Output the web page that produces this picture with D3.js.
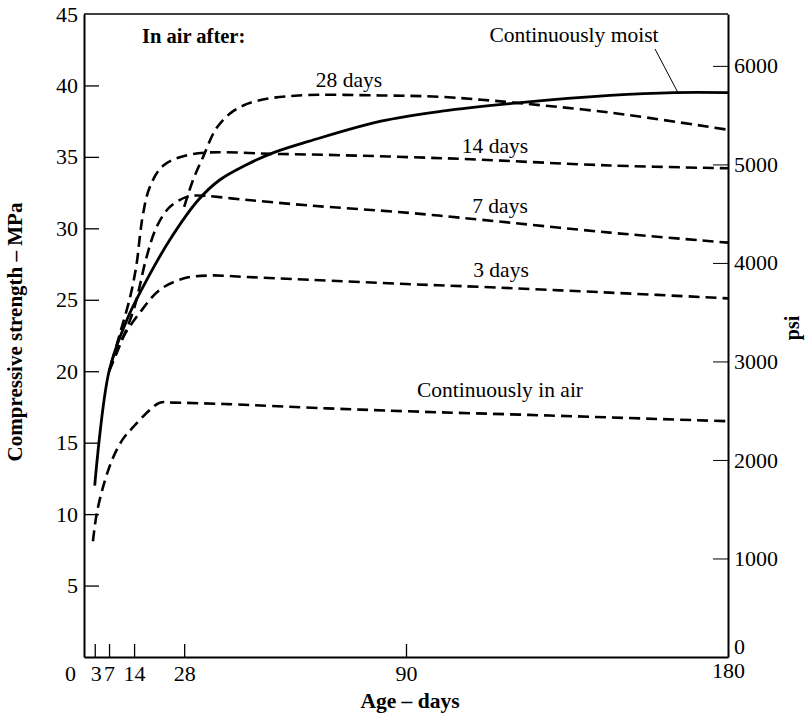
<!DOCTYPE html>
<html><head><meta charset="utf-8">
<script src="https://cdn.jsdelivr.net/npm/d3@7"></script>
<style>
html,body{margin:0;padding:0;background:#fff;}
svg{display:block;}
text{font-family:"Liberation Serif","Times New Roman",serif;fill:#000;}
</style></head>
<body>
<script>
// ---- data (age in days, compressive strength in MPa) ----
const moist   = [[3,12],[7,20],[12,23.6],[16.5,25.9],[24,29.2],[32,32.0],[38,33.4],[45,34.4],[53,35.3],[63,36.1],[83,37.5],[100,38.2],[122,38.8],[147,39.3],[165,39.5],[180,39.5]];
const air28   = [[28,31.5],[30.5,33.4],[33.3,35.0],[37,37.0],[41.7,38.2],[48,38.9],[60,39.3],[83,39.3],[100,39.2],[111,39.0],[120,38.8],[147,38.1],[180,36.9]];
const air14   = [[7.7,20.6],[10,22.6],[12.9,25.2],[14.7,27.5],[15.7,29.6],[16.5,31.0],[18.4,32.9],[22.2,34.4],[30.5,35.2],[55,35.2],[101,34.9],[147,34.4],[180,34.2]];
const air7    = [[7,20],[10,21.8],[14,24.4],[17.5,28],[20.3,30.1],[24,31.5],[28.7,32.2],[31.5,32.3],[45,32.0],[63,31.6],[90,31.1],[111,30.6],[147,29.7],[180,29.0]];
const air3    = [[7,20],[10.5,22.2],[15.6,24.1],[21.2,25.7],[28,26.5],[35,26.7],[45,26.6],[63,26.4],[90,26.1],[111,25.9],[147,25.5],[180,25.1]];
const airOnly = [[2.5,8.1],[3.6,10.1],[5.8,12.3],[8.2,14.0],[11,15.3],[13.8,16.1],[18.4,17.3],[21.2,17.8],[25,17.8],[40,17.7],[68,17.4],[90,17.2],[130,16.9],[180,16.5]];

const xTicks   = [0,3,7,14,28,90,180];
const yTicks   = [5,10,15,20,25,30,35,40,45];
const psiTicks = [0,1000,2000,3000,4000,5000,6000];

const curveLabels = ["28 days","14 days","7 days","3 days","Continuously in air"];

// ---- layout ----
const W = 808, H = 716;
const svg = d3.select("body").append("svg").attr("width", W).attr("height", H);

const x = d3.scaleLinear().domain([0,180]).range([84,728]);
const y = d3.scaleLinear().domain([0,45]).range([657,14]);
const yPsi = d3.scaleLinear().domain([0,45*145.038]).range([657,14]);

const line = d3.line().x(d=>x(d[0])).y(d=>y(d[1])).curve(d3.curveCatmullRom.alpha(0.5));

// frame top line
svg.append("line").attr("x1",x(0)).attr("x2",x(180)).attr("y1",y(45)).attr("y2",y(45))
  .attr("stroke","#000").attr("stroke-width",1.5);

const tickFont = "22px";

// left axis
const gL = svg.append("g").attr("transform",`translate(${x(0)},0)`)
  .call(d3.axisLeft(y).tickValues(yTicks).tickSizeInner(-15).tickSizeOuter(0).tickPadding(6));
gL.select(".domain").attr("stroke-width",2);
gL.selectAll(".tick line").attr("stroke-width",1.3);
gL.selectAll(".tick").filter(d=>d===45).select("line").remove();

// right axis (psi)
const gR = svg.append("g").attr("transform",`translate(${x(180)},0)`)
  .call(d3.axisRight(yPsi).tickValues(psiTicks).tickSizeInner(-15).tickSizeOuter(0).tickPadding(6).tickFormat(d3.format("d")));
gR.select(".domain").attr("stroke-width",2);
gR.selectAll(".tick line").attr("stroke-width",1);
gR.selectAll(".tick").filter(d=>d===0).select("line").remove();
gR.selectAll(".tick").filter(d=>d===0).select("text").attr("dy",null).attr("y",-4);

// bottom axis
const gB = svg.append("g").attr("transform",`translate(0,${y(0)})`)
  .call(d3.axisBottom(x).tickValues(xTicks).tickSizeInner(-13).tickSizeOuter(0).tickPadding(8));
gB.select(".domain").attr("stroke-width",2);
gB.selectAll(".tick line").attr("stroke-width",1.3);
gB.selectAll(".tick").filter(d=>d===0||d===180).select("line").remove();
gB.selectAll(".tick").filter(d=>d===0).select("text").attr("x",-14);
gB.selectAll(".tick").filter(d=>d===180).select("text").attr("dy",null).attr("y",21);
gB.selectAll(".tick").filter(d=>d===3).select("text").attr("x",1);

svg.selectAll(".tick text").attr("fill","#000")
  .style("font-size",tickFont).style("font-family","Liberation Serif, serif");
svg.selectAll(".domain,.tick line").attr("stroke","#000");

// curves
const dashed = [air28, air14, air7, air3, airOnly];
svg.append("g").selectAll("path").data(dashed).join("path")
  .attr("d", line).attr("fill","none").attr("stroke","#000")
  .attr("stroke-width",2.6).attr("stroke-dasharray","11,6");
svg.append("path").datum(moist).attr("d", line).attr("fill","none")
  .attr("stroke","#000").attr("stroke-width",2.8);

// curve labels
const lx = [349,495,500,501,500];
const ly = [87,153,213,277,397];
svg.append("g").selectAll("text").data(curveLabels).join("text")
  .attr("x", (d,i)=>lx[i]).attr("y", (d,i)=>ly[i])
  .attr("text-anchor","middle").style("font-size","21.5px").text(d=>d);

// annotations
svg.append("text").attr("x",142).attr("y",43).style("font-size","20.5px").style("font-weight","bold").text("In air after:");
svg.append("text").attr("x",574).attr("y",42).attr("text-anchor","middle").style("font-size","21.5px").text("Continuously moist");
svg.append("line").attr("x1",655).attr("y1",49).attr("x2",x(166)).attr("y2",y(39.5))
  .attr("stroke","#000").attr("stroke-width",1);

// axis titles
svg.append("text").attr("x",410).attr("y",708).attr("text-anchor","middle")
  .style("font-size","21.5px").style("font-weight","bold").text("Age – days");
svg.append("text").attr("transform","translate(22,332) rotate(-90)").attr("text-anchor","middle")
  .style("font-size","21px").style("font-weight","bold").text("Compressive strength – MPa");
svg.append("text").attr("transform","translate(799,328) rotate(-90)").attr("text-anchor","middle")
  .style("font-size","20px").style("font-weight","bold").text("psi");
</script>
</body></html>
